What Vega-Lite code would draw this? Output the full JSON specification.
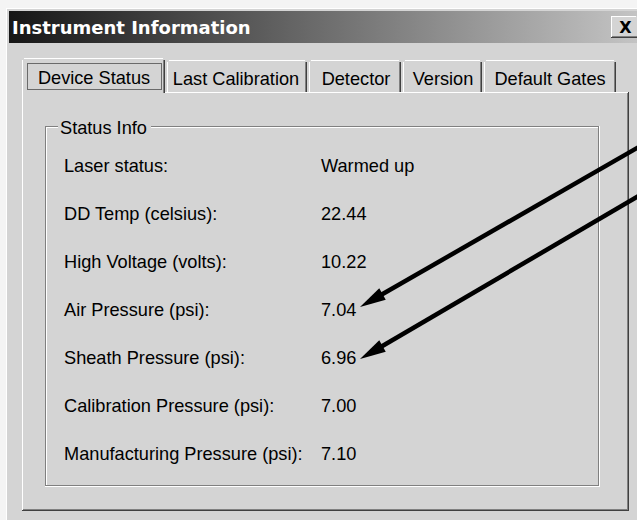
{
  "$schema": "https://vega.github.io/schema/vega-lite/v6.json",
  "width": 637,
  "height": 520,
  "padding": 0,
  "autosize": {"type": "none"},
  "background": "#f4f4f4",
  "config": {
    "view": {"stroke": null},
    "axis": {"disable": true},
    "legend": {"disable": true},
    "text": {"font": "Liberation Sans", "fontSize": 18.2, "color": "#000000"}
  },
  "datasets": {
    "window": [{"title": "Instrument Information", "close": "X", "group": "Status Info"}],
    "tabs": [
      {"tab": "Device Status", "selected": true},
      {"tab": "Last Calibration", "selected": false},
      {"tab": "Detector", "selected": false},
      {"tab": "Version", "selected": false},
      {"tab": "Default Gates", "selected": false}
    ],
    "info": [
      {"label": "Laser status:", "value": "Warmed up"},
      {"label": "DD Temp (celsius):", "value": "22.44"},
      {"label": "High Voltage (volts):", "value": "10.22"},
      {"label": "Air Pressure (psi):", "value": "7.04"},
      {"label": "Sheath Pressure (psi):", "value": "6.96"},
      {"label": "Calibration Pressure (psi):", "value": "7.00"},
      {"label": "Manufacturing Pressure (psi):", "value": "7.10"}
    ]
  },
  "layer": [
    {
      "data": {"name": "window"},
      "layer": [
        {"mark": {"type": "rect", "color": "#d4d4d4"},
         "encoding": {
           "x": {"datum": 6, "scale": {"domain": [0, 637], "nice": false, "zero": false}},
           "x2": {"datum": 637},
           "y": {"datum": 8, "scale": {"domain": [0, 520], "reverse": true, "nice": false, "zero": false}},
           "y2": {"datum": 520}}},
        {"mark": {"type": "rule", "color": "#ffffff", "strokeWidth": 1}, "encoding": {"x": {"datum": 6.5}, "y": {"datum": 8}, "y2": {"datum": 520}}},
        {"mark": {"type": "rule", "color": "#ffffff", "strokeWidth": 1}, "encoding": {"x": {"datum": 6}, "x2": {"datum": 637}, "y": {"datum": 8.5}}},
        {"mark": {"type": "rect", "color": {"gradient": "linear", "x1": 0, "x2": 1, "y1": 0, "y2": 0, "stops": [{"offset": 0, "color": "#161616"}, {"offset": 1, "color": "#c4c4c4"}]}},
         "encoding": {"x": {"datum": 9}, "x2": {"datum": 637}, "y": {"datum": 11}, "y2": {"datum": 43}}},
        {"mark": {"type": "text", "font": "DejaVu Sans", "fontWeight": "bold", "fontSize": 18, "color": "#ffffff", "align": "left", "baseline": "middle"},
         "encoding": {"x": {"datum": 12}, "y": {"datum": 28.5}, "text": {"field": "title"}}},
        {"mark": {"type": "rect", "color": "#d4d4d4"}, "encoding": {"x": {"datum": 611}, "x2": {"datum": 637}, "y": {"datum": 16}, "y2": {"datum": 38}}},
        {"mark": {"type": "rule", "color": "#ffffff"}, "encoding": {"x": {"datum": 611}, "x2": {"datum": 636}, "y": {"datum": 16.5}}},
        {"mark": {"type": "rule", "color": "#ffffff"}, "encoding": {"x": {"datum": 611.5}, "y": {"datum": 16}, "y2": {"datum": 38}}},
        {"mark": {"type": "rule", "color": "#808080"}, "encoding": {"x": {"datum": 612}, "x2": {"datum": 637}, "y": {"datum": 36.5}}},
        {"mark": {"type": "rule", "color": "#404040"}, "encoding": {"x": {"datum": 611}, "x2": {"datum": 637}, "y": {"datum": 37.5}}},
        {"mark": {"type": "text", "font": "DejaVu Sans", "fontWeight": "bold", "fontSize": 16, "color": "#000000", "align": "center", "baseline": "middle"},
         "encoding": {"x": {"datum": 625.5}, "y": {"datum": 28}, "text": {"field": "close"}}},

        {"mark": {"type": "rule", "color": "#ffffff"}, "encoding": {"x": {"datum": 22}, "x2": {"datum": 628}, "y": {"datum": 92.5}}},
        {"mark": {"type": "rule", "color": "#ffffff"}, "encoding": {"x": {"datum": 22.5}, "y": {"datum": 92}, "y2": {"datum": 511}}},
        {"mark": {"type": "rule", "color": "#808080"}, "encoding": {"x": {"datum": 627.5}, "y": {"datum": 93}, "y2": {"datum": 510}}},
        {"mark": {"type": "rule", "color": "#404040"}, "encoding": {"x": {"datum": 628.5}, "y": {"datum": 92}, "y2": {"datum": 511}}},
        {"mark": {"type": "rule", "color": "#808080"}, "encoding": {"x": {"datum": 23}, "x2": {"datum": 628}, "y": {"datum": 509.5}}},
        {"mark": {"type": "rule", "color": "#404040"}, "encoding": {"x": {"datum": 22}, "x2": {"datum": 629}, "y": {"datum": 510.5}}},

        {"mark": {"type": "rule", "color": "#ffffff"}, "encoding": {"x": {"datum": 167.5}, "y": {"datum": 62}, "y2": {"datum": 92}}},
        {"mark": {"type": "rule", "color": "#ffffff"}, "encoding": {"x": {"datum": 169}, "x2": {"datum": 305}, "y": {"datum": 60.5}}},
        {"mark": {"type": "rule", "color": "#808080"}, "encoding": {"x": {"datum": 305.5}, "y": {"datum": 62}, "y2": {"datum": 92}}},
        {"mark": {"type": "rule", "color": "#404040"}, "encoding": {"x": {"datum": 306.5}, "y": {"datum": 62}, "y2": {"datum": 92}}},

        {"mark": {"type": "rule", "color": "#ffffff"}, "encoding": {"x": {"datum": 309.5}, "y": {"datum": 62}, "y2": {"datum": 92}}},
        {"mark": {"type": "rule", "color": "#ffffff"}, "encoding": {"x": {"datum": 311}, "x2": {"datum": 399}, "y": {"datum": 60.5}}},
        {"mark": {"type": "rule", "color": "#808080"}, "encoding": {"x": {"datum": 399.5}, "y": {"datum": 62}, "y2": {"datum": 92}}},
        {"mark": {"type": "rule", "color": "#404040"}, "encoding": {"x": {"datum": 400.5}, "y": {"datum": 62}, "y2": {"datum": 92}}},

        {"mark": {"type": "rule", "color": "#ffffff"}, "encoding": {"x": {"datum": 403.5}, "y": {"datum": 62}, "y2": {"datum": 92}}},
        {"mark": {"type": "rule", "color": "#ffffff"}, "encoding": {"x": {"datum": 405}, "x2": {"datum": 480}, "y": {"datum": 60.5}}},
        {"mark": {"type": "rule", "color": "#808080"}, "encoding": {"x": {"datum": 480.5}, "y": {"datum": 62}, "y2": {"datum": 92}}},
        {"mark": {"type": "rule", "color": "#404040"}, "encoding": {"x": {"datum": 481.5}, "y": {"datum": 62}, "y2": {"datum": 92}}},

        {"mark": {"type": "rule", "color": "#ffffff"}, "encoding": {"x": {"datum": 484.5}, "y": {"datum": 62}, "y2": {"datum": 92}}},
        {"mark": {"type": "rule", "color": "#ffffff"}, "encoding": {"x": {"datum": 486}, "x2": {"datum": 614}, "y": {"datum": 60.5}}},
        {"mark": {"type": "rule", "color": "#808080"}, "encoding": {"x": {"datum": 614.5}, "y": {"datum": 62}, "y2": {"datum": 92}}},
        {"mark": {"type": "rule", "color": "#404040"}, "encoding": {"x": {"datum": 615.5}, "y": {"datum": 62}, "y2": {"datum": 92}}},

        {"mark": {"type": "rect", "color": "#d4d4d4"}, "encoding": {"x": {"datum": 22}, "x2": {"datum": 165}, "y": {"datum": 58}, "y2": {"datum": 94}}},
        {"mark": {"type": "rule", "color": "#ffffff"}, "encoding": {"x": {"datum": 22.5}, "y": {"datum": 60}, "y2": {"datum": 94}}},
        {"mark": {"type": "rule", "color": "#ffffff"}, "encoding": {"x": {"datum": 24}, "x2": {"datum": 163}, "y": {"datum": 58.5}}},
        {"mark": {"type": "rule", "color": "#808080"}, "encoding": {"x": {"datum": 163.5}, "y": {"datum": 60}, "y2": {"datum": 93}}},
        {"mark": {"type": "rule", "color": "#404040"}, "encoding": {"x": {"datum": 164.5}, "y": {"datum": 60}, "y2": {"datum": 93}}},
        {"mark": {"type": "rect", "fill": null, "stroke": "#000000", "strokeWidth": 1, "strokeDash": [1, 1], "filled": false},
         "encoding": {"x": {"datum": 27.5}, "x2": {"datum": 161.5}, "y": {"datum": 63.5}, "y2": {"datum": 89.5}}},

        {"data": {"name": "tabs"}, "transform": [{"filter": {"field": "tab", "equal": "Device Status"}}],
         "mark": {"type": "text", "align": "center", "baseline": "middle"},
         "encoding": {"x": {"datum": 94}, "y": {"datum": 78.5}, "text": {"field": "tab"}}},
        {"data": {"name": "tabs"}, "transform": [{"filter": {"field": "tab", "equal": "Last Calibration"}}],
         "mark": {"type": "text", "align": "center", "baseline": "middle"},
         "encoding": {"x": {"datum": 236}, "y": {"datum": 79.5}, "text": {"field": "tab"}}},
        {"data": {"name": "tabs"}, "transform": [{"filter": {"field": "tab", "equal": "Detector"}}],
         "mark": {"type": "text", "align": "center", "baseline": "middle"},
         "encoding": {"x": {"datum": 356}, "y": {"datum": 79.5}, "text": {"field": "tab"}}},
        {"data": {"name": "tabs"}, "transform": [{"filter": {"field": "tab", "equal": "Version"}}],
         "mark": {"type": "text", "align": "center", "baseline": "middle"},
         "encoding": {"x": {"datum": 443}, "y": {"datum": 79.5}, "text": {"field": "tab"}}},
        {"data": {"name": "tabs"}, "transform": [{"filter": {"field": "tab", "equal": "Default Gates"}}],
         "mark": {"type": "text", "align": "center", "baseline": "middle"},
         "encoding": {"x": {"datum": 550}, "y": {"datum": 79.5}, "text": {"field": "tab"}}},

        {"mark": {"type": "rule", "color": "#808080"}, "encoding": {"x": {"datum": 45}, "x2": {"datum": 58}, "y": {"datum": 126.5}}},
        {"mark": {"type": "rule", "color": "#808080"}, "encoding": {"x": {"datum": 151}, "x2": {"datum": 599}, "y": {"datum": 126.5}}},
        {"mark": {"type": "rule", "color": "#808080"}, "encoding": {"x": {"datum": 45.5}, "y": {"datum": 126}, "y2": {"datum": 486}}},
        {"mark": {"type": "rule", "color": "#808080"}, "encoding": {"x": {"datum": 598.5}, "y": {"datum": 126}, "y2": {"datum": 486}}},
        {"mark": {"type": "rule", "color": "#808080"}, "encoding": {"x": {"datum": 45}, "x2": {"datum": 599}, "y": {"datum": 485.5}}},
        {"mark": {"type": "rule", "color": "#ffffff"}, "encoding": {"x": {"datum": 46}, "x2": {"datum": 58}, "y": {"datum": 127.5}}},
        {"mark": {"type": "rule", "color": "#ffffff"}, "encoding": {"x": {"datum": 151}, "x2": {"datum": 598}, "y": {"datum": 127.5}}},
        {"mark": {"type": "rule", "color": "#ffffff"}, "encoding": {"x": {"datum": 46.5}, "y": {"datum": 127}, "y2": {"datum": 485}}},
        {"mark": {"type": "rule", "color": "#ffffff"}, "encoding": {"x": {"datum": 599.5}, "y": {"datum": 126}, "y2": {"datum": 487}}},
        {"mark": {"type": "rule", "color": "#ffffff"}, "encoding": {"x": {"datum": 45}, "x2": {"datum": 600}, "y": {"datum": 486.5}}},
        {"mark": {"type": "text", "align": "left", "baseline": "middle"},
         "encoding": {"x": {"datum": 60}, "y": {"datum": 129}, "text": {"field": "group"}}},

        {"mark": {"type": "rule", "color": "#000000", "strokeWidth": 4.5, "strokeCap": "butt"},
         "encoding": {"x": {"datum": 640}, "x2": {"datum": 370}, "y": {"datum": 146.3}, "y2": {"datum": 301.3}}},
        {"mark": {"type": "rule", "color": "#000000", "strokeWidth": 4.5, "strokeCap": "butt"},
         "encoding": {"x": {"datum": 640}, "x2": {"datum": 370}, "y": {"datum": 195.2}, "y2": {"datum": 353.2}}},
        {"mark": {"type": "point", "filled": true, "color": "#000000", "opacity": 1, "shape": "M0,0L2,-0.5L2,0.5Z", "size": 676, "angle": 330},
         "encoding": {"x": {"datum": 360}, "y": {"datum": 307}}},
        {"mark": {"type": "point", "filled": true, "color": "#000000", "opacity": 1, "shape": "M0,0L2,-0.5L2,0.5Z", "size": 676, "angle": 330},
         "encoding": {"x": {"datum": 360}, "y": {"datum": 359}}}
      ]
    },
    {
      "data": {"name": "info"},
      "transform": [{"fold": ["label", "value"], "as": ["column", "text"]}],
      "mark": {"type": "text", "align": "left", "baseline": "middle"},
      "encoding": {
        "x": {"field": "column", "type": "nominal", "scale": {"type": "point", "domain": ["label", "value"], "range": [64, 321], "padding": 0}},
        "y": {"field": "label", "type": "nominal", "sort": null, "scale": {"type": "point", "range": [166.5, 454.5], "padding": 0}},
        "text": {"field": "text"}
      }
    }
  ],
  "resolve": {"scale": {"x": "independent", "y": "independent"}}
}
